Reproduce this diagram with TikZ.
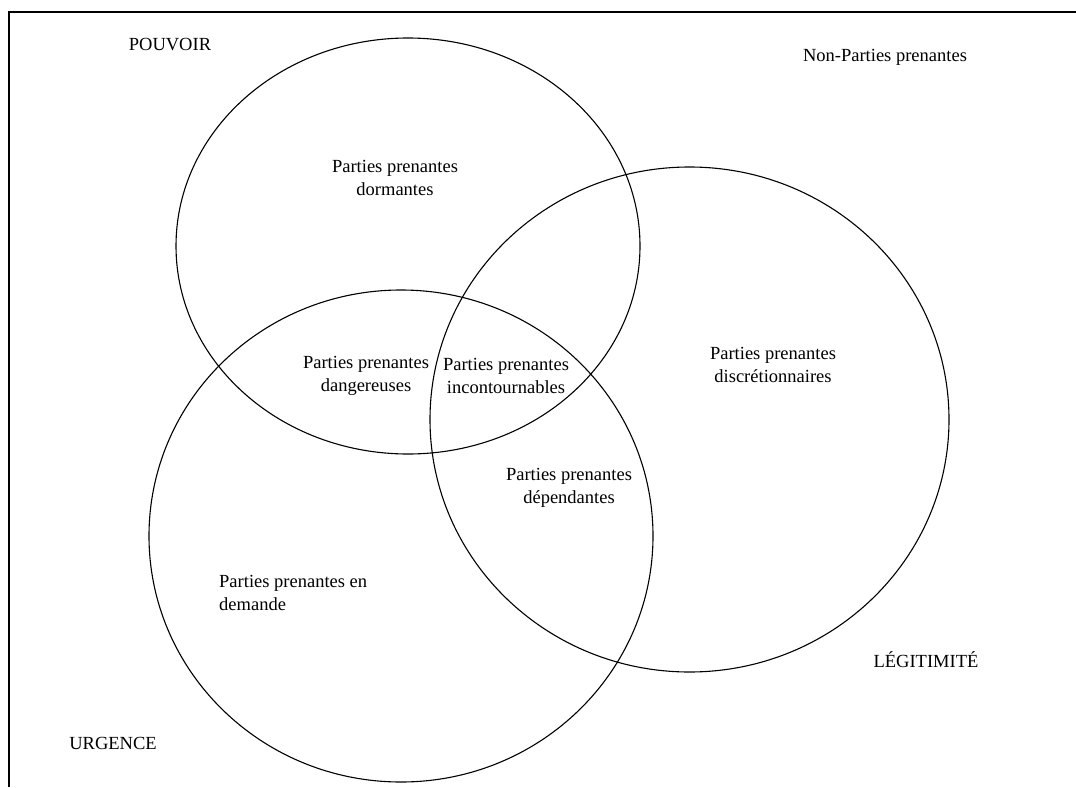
\documentclass[tikz,border=0pt]{standalone}
\usepackage{fontspec}
\setmainfont{Liberation Serif}
\usetikzlibrary{shapes.geometric}
\begin{document}
\begin{tikzpicture}[x=1pt,y=-1pt,
  set/.style={draw,ellipse,line width=1.1pt,inner sep=0pt},
  lbl/.style={align=center,inner sep=0pt,font=\fontsize{18.5}{22.5}\selectfont},
  frameline/.style={line width=1.3pt}]
  \useasboundingbox (0,0) rectangle (1076,787);

  % partial frame: top and left edges
  \coordinate (tl) at (9,12);
  \coordinate (tr) at (1076,12);
  \coordinate (bl) at (9,787);
  \draw[frameline] (bl) -- (tl) -- (tr);

  % the three attribute sets
  \node[set,minimum width=464pt,minimum height=416pt] (pouvoir) at (408,246) {};
  \node[set,minimum width=519pt,minimum height=505pt] (legitimite) at (689.5,419.5) {};
  \node[set,minimum width=504pt,minimum height=492pt] (urgence) at (401,536) {};

  % set names
  \node[lbl] (tP) at (170,45) {POUVOIR};
  \node[lbl] (tN) at (885,57) {Non-Parties prenantes};
  \node[lbl] (tL) at (926,660) {LÉGITIMITÉ};
  \node[lbl] (tU) at (113,743) {URGENCE};

  % stakeholder classes
  \node[lbl] (dorm) at (395,178) {Parties prenantes\\dormantes};
  \node[lbl] (dang) at (366,376) {Parties prenantes\\dangereuses};
  \node[lbl] (inco) at (506,376) {Parties prenantes\\incontournables};
  \node[lbl] (disc) at (773,365) {Parties prenantes\\discrétionnaires};
  \node[lbl] (depe) at (569,488) {Parties prenantes\\dépendantes};
  \node[lbl,align=left,anchor=west] (dema) at (219,593) {Parties prenantes en\\demande};
\end{tikzpicture}
\end{document}
